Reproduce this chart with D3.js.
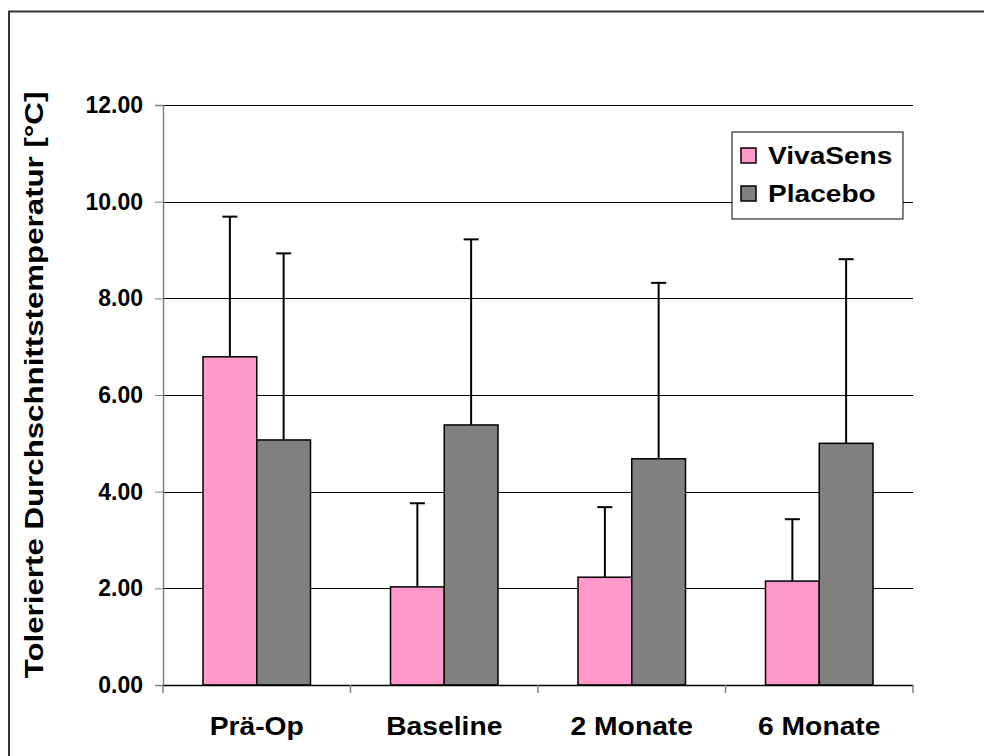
<!DOCTYPE html>
<html>
<head>
<meta charset="utf-8">
<script src="https://cdn.jsdelivr.net/npm/d3@7"></script>
<style>
  body { margin: 0; background: #fff; }
  svg { display: block; font-family: "Liberation Sans", Arial, sans-serif; }
</style>
</head>
<body>
<div id="chart"></div>
<script>
// data
const categories = ["Prä-Op", "Baseline", "2 Monate", "6 Monate"];
const seriesNames = ["VivaSens", "Placebo"];
const seriesColors = ["#FF99CC", "#808080"];
const vivaSens = [6.79, 2.03, 2.23, 2.15];
const vivaSensErr = [2.90, 1.73, 1.45, 1.28];
const placebo = [5.07, 5.38, 4.68, 5.00];
const placeboErr = [3.86, 3.84, 3.64, 3.81];
const yTicks = [0, 2, 4, 6, 8, 10, 12];

const width = 984, height = 756;
const margin = { left: 163, right: 71, top: 105, bottom: 71 };
const plotW = width - margin.left - margin.right;
const plotH = height - margin.top - margin.bottom;

// the original renders its bold text a bit wider than Arial
function stretch(sel, factor) {
  sel.each(function() {
    const w = this.getComputedTextLength();
    d3.select(this).attr("textLength", w * factor).attr("lengthAdjust", "spacingAndGlyphs");
  });
}

const svg = d3.select("#chart").append("svg")
    .attr("width", width)
    .attr("height", height);

// outer frame (runs off the right and bottom edges)
svg.append("rect")
    .attr("x", 9).attr("y", 11.5)
    .attr("width", width + 20).attr("height", height + 20)
    .attr("fill", "none")
    .attr("stroke", "#333")
    .attr("stroke-width", 2);

const g = svg.append("g").attr("transform", `translate(${margin.left},${margin.top})`);

const x = d3.scaleBand().domain(categories).range([0, plotW]).paddingInner(0).paddingOuter(0);
const x1 = d3.scaleBand().domain(seriesNames).range([40, x.bandwidth() - 40]);
const y = d3.scaleLinear().domain([0, 12]).range([plotH, 0]);

// gridlines
g.append("g")
  .selectAll("line")
  .data(yTicks.filter(d => d > 0))
  .join("line")
    .attr("x1", 0).attr("x2", plotW)
    .attr("y1", d => Math.round(y(d)) + 0.5).attr("y2", d => Math.round(y(d)) + 0.5)
    .attr("stroke", "#000").attr("stroke-width", 1);

const rows = categories.map((c, i) => ({
  cat: c,
  vals: [
    { s: seriesNames[0], v: vivaSens[i], e: vivaSensErr[i], col: seriesColors[0] },
    { s: seriesNames[1], v: placebo[i], e: placeboErr[i], col: seriesColors[1] }
  ]
}));

const groups = g.append("g").selectAll("g")
  .data(rows)
  .join("g")
    .attr("transform", d => `translate(${x(d.cat)},0)`);

// error bars (upper only), drawn under bars
groups.selectAll("g.err")
  .data(d => d.vals)
  .join("g")
    .attr("class", "err")
    .each(function(d) {
      const cx = x1(d.s) + x1.bandwidth() / 2;
      const sel = d3.select(this);
      sel.append("line")
        .attr("x1", cx).attr("x2", cx)
        .attr("y1", y(d.v)).attr("y2", y(d.v + d.e))
        .attr("stroke", "#000").attr("stroke-width", 2);
      sel.append("line")
        .attr("x1", cx - 7.5).attr("x2", cx + 7.5)
        .attr("y1", y(d.v + d.e)).attr("y2", y(d.v + d.e))
        .attr("stroke", "#000").attr("stroke-width", 2);
    });

groups.selectAll("rect")
  .data(d => d.vals)
  .join("rect")
    .attr("x", d => x1(d.s))
    .attr("y", d => y(d.v))
    .attr("width", x1.bandwidth())
    .attr("height", d => y(0) - y(d.v))
    .attr("fill", d => d.col)
    .attr("stroke", "#000")
    .attr("stroke-width", 1.5);

// y axis
const yAxis = g.append("g")
    .call(d3.axisLeft(y).tickValues(yTicks).tickSize(8).tickPadding(12).tickFormat(d3.format(".2f")));
yAxis.select(".domain").attr("stroke", "#808080").attr("stroke-width", 1.5);
yAxis.selectAll(".tick line").attr("stroke", "#808080");
yAxis.selectAll("text")
    .attr("font-family", "'Liberation Sans', Arial, sans-serif")
    .attr("font-size", 23).attr("font-weight", "bold").attr("fill", "#000");

// x axis
const xAxis = g.append("g")
    .attr("transform", `translate(0,${plotH})`)
    .call(d3.axisBottom(x).tickSize(0).tickPadding(32));
xAxis.select(".domain").attr("stroke", "#000").attr("stroke-width", 1.5);
xAxis.selectAll("text")
    .attr("font-family", "'Liberation Sans', Arial, sans-serif")
    .attr("font-size", 25).attr("font-weight", "bold").attr("fill", "#000")
    .call(stretch, 1.13);
// category separators
xAxis.append("g").selectAll("line")
  .data(d3.range(categories.length + 1))
  .join("line")
    .attr("x1", i => i * x.bandwidth()).attr("x2", i => i * x.bandwidth())
    .attr("y1", 0).attr("y2", 8)
    .attr("stroke", "#808080").attr("stroke-width", 1.5);

// y title
svg.append("text")
    .attr("transform", `translate(43,${margin.top + plotH / 2 - 10}) rotate(-90)`)
    .attr("text-anchor", "middle")
    .attr("font-size", 25).attr("font-weight", "bold")
    .text("Tolerierte Durchschnittstemperatur [°C]")
    .call(stretch, 1.25);

// legend
const legend = svg.append("g").attr("transform", "translate(732,132)");
legend.append("rect")
    .attr("width", 171).attr("height", 87)
    .attr("fill", "#fff").attr("stroke", "#000").attr("stroke-width", 1);
const li = legend.selectAll("g.item")
  .data(seriesNames)
  .join("g")
    .attr("class", "item")
    .attr("transform", (d, i) => `translate(9,${16 + i * 38})`);
li.append("rect")
    .attr("width", 15).attr("height", 15)
    .attr("fill", (d, i) => seriesColors[i])
    .attr("stroke", "#000").attr("stroke-width", 1.5);
li.append("text")
    .attr("x", 27).attr("y", 16)
    .attr("font-size", 24).attr("font-weight", "bold")
    .text(d => d)
    .call(stretch, 1.17);
</script>
</body>
</html>
